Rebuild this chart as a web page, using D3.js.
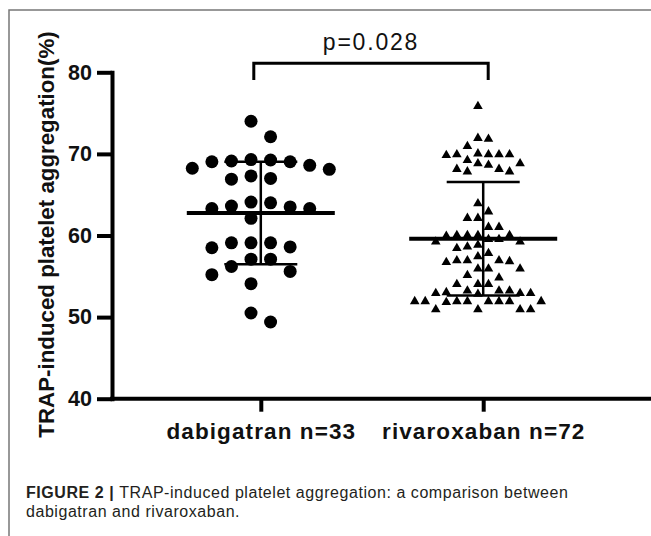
<!DOCTYPE html>
<html>
<head>
<meta charset="utf-8">
<script src="https://cdn.jsdelivr.net/npm/d3@7"></script>
<style>
  body { margin: 0; background: #fff; }
  text { font-family: "Liberation Sans", Arial, sans-serif; }
</style>
</head>
<body>
<div id="chart"></div>
<script>
// values (TRAP-induced platelet aggregation, %)
var groups = ["dabigatran n=33", "rivaroxaban n=72"];

var dabigatran = [74.0, 72.1, 69.3, 69.25, 69.13, 69.04, 69.04, 68.6, 68.24, 68.11,
  67.3, 67.0, 66.9, 64.1, 64.0, 63.6, 63.5, 63.3, 63.3, 62.1,
  59.1, 59.1, 59.1, 58.6, 58.5, 57.1, 57.1, 56.2, 55.6, 55.2,
  54.1, 50.5, 49.4];

var rivaroxaban = [76.0, 72.1, 72.0, 71.1, 70.2, 70.1, 70.1, 70.1, 70.1, 70.0,
  69.4, 69.0, 69.0, 68.8, 68.3, 68.3, 68.0, 68.0, 64.1, 63.1,
  62.3, 62.3, 61.2, 61.2, 60.2, 60.2, 60.2, 60.2, 60.1, 59.7,
  59.7, 59.4, 59.4, 59.0, 58.8, 58.6, 58.0, 57.6, 57.1, 57.1,
  57.1, 57.0, 56.9, 56.1, 56.1, 56.1, 55.3, 55.0, 54.2, 54.2,
  54.2, 53.4, 53.4, 53.4, 53.2, 53.1, 53.1, 53.1, 53.0, 52.1,
  52.1, 52.1, 52.1, 52.1, 52.1, 52.1, 52.1, 52.0, 51.1, 51.1,
  51.1, 51.1];

// mean and SD bars as drawn in the figure
var means = [62.75, 59.6];
var sds = [6.28, 6.95];

var yTicks = [40, 50, 60, 70, 80];
var pLabel = "p=0.028";
var yTitle = "TRAP-induced platelet aggregation(%)";

var width = 651, height = 536;

var svg = d3.select("#chart").append("svg")
    .attr("width", width)
    .attr("height", height);

// figure frame (top and left edges)
svg.append("path")
    .attr("d", "M9,536V10H651")
    .attr("fill", "none")
    .attr("stroke", "#777")
    .attr("stroke-width", 1.5);

var y = d3.scaleLinear().domain([40, 80]).range([398.7, 72.3]);
var x = d3.scalePoint().domain(groups).range([260.8, 483.2]);

var series = [
  {name: groups[0], values: dabigatran, shape: "circle", gap: 16},
  {name: groups[1], values: rivaroxaban, shape: "triangle", gap: 9}
];

// place points in half-step columns so that symbols don't collide
function dodge(values, gap) {
  var order = values.map((v, i) => i).sort((a, b) => values[b] - values[a]);
  var cand = [];
  for (var k = 0; k < 40; k++) cand.push(-(k + 0.5), k + 0.5);
  var placed = [], slots = [];
  order.forEach(function(i) {
    var py = y(values[i]);
    for (var s of cand) {
      if (!placed.some(p => p.slot === s && Math.abs(p.py - py) < gap)) {
        slots[i] = s;
        placed.push({slot: s, py: py});
        break;
      }
    }
  });
  var m = d3.max(slots, s => Math.abs(s));
  var step = 137 / (2 * m);
  return values.map((v, i) => ({value: v, dx: slots[i] * step}));
}

// y axis
var yAxis = svg.append("g")
    .attr("transform", "translate(112,0)")
    .call(d3.axisLeft(y).tickValues(yTicks).tickSize(15).tickPadding(5).tickSizeOuter(0));
yAxis.select(".domain").attr("stroke-width", 4).attr("stroke-linecap", "square").attr("stroke", "#000");
yAxis.selectAll(".tick line").attr("stroke-width", 4).attr("stroke", "#000");
yAxis.selectAll(".tick text")
    .style("font-size", "21.5px")
    .style("font-weight", "bold")
    .attr("fill", "#111");

// x axis
var xAxis = svg.append("g")
    .attr("transform", "translate(0," + y(40) + ")")
    .call(d3.axisBottom(x).tickSize(13).tickPadding(11));
xAxis.select(".domain").remove();
xAxis.append("line")
    .attr("x1", 110).attr("x2", width)
    .attr("stroke", "#000").attr("stroke-width", 4);
xAxis.selectAll(".tick line").attr("stroke-width", 4).attr("stroke", "#000");
xAxis.selectAll(".tick text")
    .style("font-size", "22.5px")
    .style("font-weight", "bold")
    .style("letter-spacing", "1.1px")
    .attr("fill", "#111");

// y axis title
svg.append("text")
    .attr("transform", "translate(53.5," + 234.5 + ") rotate(-90)")
    .attr("text-anchor", "middle")
    .style("font-size", "22.3px")
    .style("font-weight", "bold")
    .attr("fill", "#111")
    .text(yTitle);

// points
var tri = d3.symbol().type(d3.symbolTriangle).size(40);
series.forEach(function(s) {
  var pts = dodge(s.values, s.gap);
  var cx = x(s.name);
  var g = svg.append("g");
  if (s.shape === "circle") {
    g.selectAll("circle").data(pts).enter().append("circle")
        .attr("cx", d => cx + d.dx)
        .attr("cy", d => y(d.value))
        .attr("r", 6.5)
        .attr("fill", "#000");
  } else {
    g.selectAll("path").data(pts).enter().append("path")
        .attr("d", tri)
        .attr("transform", d => "translate(" + (cx + d.dx) + "," + (y(d.value) + 1.4) + ")")
        .attr("fill", "#000");
  }
});

// mean +/- SD
var stats = groups.map((g, i) => ({name: g, mean: means[i], sd: sds[i]}));
var bars = svg.append("g").attr("stroke", "#000");
bars.selectAll(".mean").data(stats).enter().append("line")
    .attr("x1", d => x(d.name) - 74).attr("x2", d => x(d.name) + 74)
    .attr("y1", d => y(d.mean)).attr("y2", d => y(d.mean))
    .attr("stroke-width", 4);
bars.selectAll(".sd").data(stats).enter().append("line")
    .attr("x1", d => x(d.name)).attr("x2", d => x(d.name))
    .attr("y1", d => y(d.mean + d.sd)).attr("y2", d => y(d.mean - d.sd))
    .attr("stroke-width", 2.5);
[1, -1].forEach(function(sign) {
  bars.selectAll(".cap" + sign).data(stats).enter().append("line")
      .attr("x1", d => x(d.name) - 36.5).attr("x2", d => x(d.name) + 36.5)
      .attr("y1", d => y(d.mean + sign * d.sd)).attr("y2", d => y(d.mean + sign * d.sd))
      .attr("stroke-width", 2.5);
});

// significance bracket
var bx1 = x(groups[0]) - 7, bx2 = x(groups[1]) + 5;
svg.append("path")
    .attr("d", "M" + bx1 + ",80V63.3H" + bx2 + "V80")
    .attr("fill", "none")
    .attr("stroke", "#000")
    .attr("stroke-width", 3);
svg.append("text")
    .attr("x", (bx1 + bx2) / 2)
    .attr("y", 50)
    .attr("text-anchor", "middle")
    .style("font-size", "23px")
    .style("letter-spacing", "1.8px")
    .attr("fill", "#111")
    .text(pLabel);

// caption
var cap = svg.append("text")
    .attr("x", 26).attr("y", 498.3)
    .style("font-size", "16px")
    .style("letter-spacing", "0.55px")
    .attr("fill", "#231f20");
cap.append("tspan").style("font-weight", "bold").text("FIGURE 2");
cap.append("tspan").style("font-weight", "bold").text(" | ");
cap.append("tspan").text("TRAP-induced platelet aggregation: a comparison between");
svg.append("text")
    .attr("x", 26).attr("y", 517)
    .style("font-size", "16px")
    .style("letter-spacing", "0.55px")
    .attr("fill", "#231f20")
    .text("dabigatran and rivaroxaban.");
</script>
</body>
</html>
